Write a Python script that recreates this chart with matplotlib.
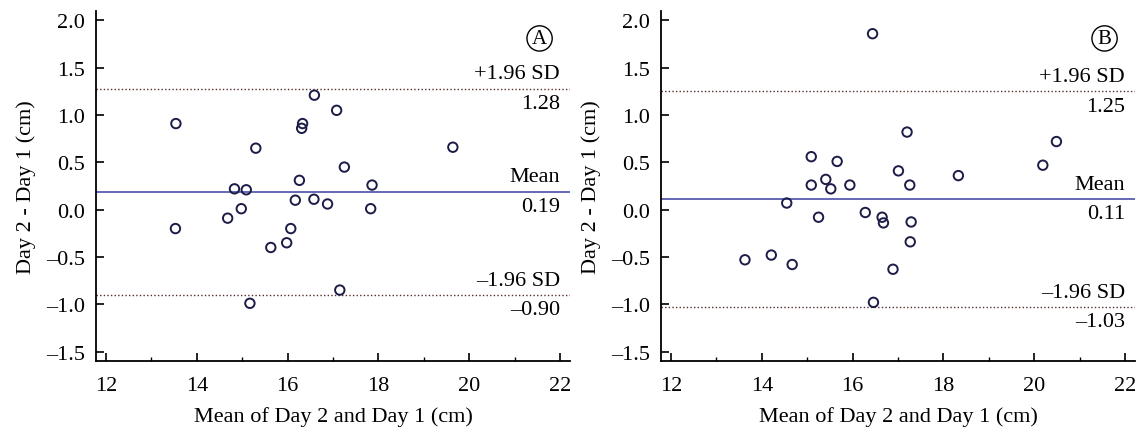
import matplotlib
matplotlib.use("Agg")
import matplotlib.pyplot as plt
import numpy as np
from matplotlib.ticker import MultipleLocator

plt.rcParams['font.family'] = ['Liberation Serif', 'DejaVu Serif']
plt.rcParams['font.size'] = 16

# panel A
a_mean_x = [13.54, 13.53, 14.83, 15.09, 14.98, 14.68, 15.17, 15.30, 15.63, 15.98, 16.07, 16.17,
            16.26, 16.33, 16.31, 16.59, 16.58, 16.88, 17.08, 17.15, 17.25, 17.86, 17.83, 19.64]
a_diff = [0.91, -0.20, 0.22, 0.21, 0.01, -0.09, -0.99, 0.65, -0.40, -0.35, -0.20, 0.10,
          0.31, 0.91, 0.86, 1.21, 0.11, 0.06, 1.05, -0.85, 0.45, 0.26, 0.01, 0.66]
a_lines = [1.28, 0.19, -0.90]

# panel B
b_mean_x = [16.44, 17.20, 20.49, 15.09, 15.66, 20.19, 17.01, 18.33, 15.41, 15.09, 15.52, 15.94,
            17.26, 14.55, 15.25, 16.28, 16.65, 16.68, 17.29, 17.27, 13.63, 14.21, 14.67, 16.89, 16.46]
b_diff = [1.86, 0.82, 0.72, 0.56, 0.51, 0.47, 0.41, 0.36, 0.32, 0.26, 0.22, 0.26,
          0.26, 0.07, -0.08, -0.03, -0.08, -0.14, -0.13, -0.34, -0.53, -0.48, -0.58, -0.63, -0.98]
b_lines = [1.25, 0.11, -1.03]

panels = [("A", a_mean_x, a_diff, a_lines), ("B", b_mean_x, b_diff, b_lines)]

fig = plt.figure(figsize=(11.4, 4.35), dpi=100)
lefts = [0.0842, 0.5798]

def dash(v):
    return v.replace('-', '\u2013')

for left, (tag, xs, ys, lines) in zip(lefts, panels):
    ax = fig.add_axes([left, 0.1678, 0.4158, 0.8046])
    upper, mean, lower = lines
    ax.axhline(mean, color='#3a3fa0', lw=1.1, zorder=1)
    ax.axhline(upper, color='#5a2a2a', lw=1.0, ls=(0, (1, 1.6)), zorder=1)
    ax.axhline(lower, color='#5a2a2a', lw=1.0, ls=(0, (1, 1.6)), zorder=1)
    ax.scatter(xs, ys, s=46, facecolors='none', edgecolors='#1c1c48', linewidths=1.4, zorder=3)

    tx = 22.0
    off = 0.055
    ax.text(tx, upper + off, "+1.96 SD", ha='right', va='bottom')
    ax.text(tx, upper - off, "%.2f" % upper, ha='right', va='top')
    ax.text(tx, mean + off, "Mean", ha='right', va='bottom')
    ax.text(tx, mean - off, "%.2f" % mean, ha='right', va='top')
    ax.text(tx, lower + off, "\u20131.96 SD", ha='right', va='bottom')
    ax.text(tx, lower - off, dash("%.2f" % lower), ha='right', va='top')

    ax.text(21.55, 1.81, tag, ha='center', va='center', fontsize=15,
            bbox=dict(boxstyle='circle,pad=0.15', fc='white', ec='black', lw=1.0))

    ax.set_xlim(11.78, 22.22)
    ax.set_ylim(-1.6, 2.1)
    ax.xaxis.set_major_locator(MultipleLocator(2))
    ax.xaxis.set_minor_locator(MultipleLocator(1))
    ax.yaxis.set_major_locator(MultipleLocator(0.5))
    ax.yaxis.set_major_formatter(plt.FuncFormatter(lambda v, p: dash("%.1f" % v)))
    ax.tick_params(direction='in', length=6, width=1.2, labelsize=16)
    ax.tick_params(which='minor', direction='in', length=3, width=1.0)
    ax.tick_params(axis='x', pad=11)
    ax.tick_params(axis='y', pad=8)
    for s in ['top', 'right']:
        ax.spines[s].set_visible(False)
    for s in ['left', 'bottom']:
        ax.spines[s].set_linewidth(1.3)
    ax.set_xlabel("Mean of Day 2 and Day 1 (cm)", fontsize=16, labelpad=8)
    ax.set_ylabel("Day 2 - Day 1 (cm)", fontsize=16, labelpad=7)

fig.savefig("out.png", dpi=100)
